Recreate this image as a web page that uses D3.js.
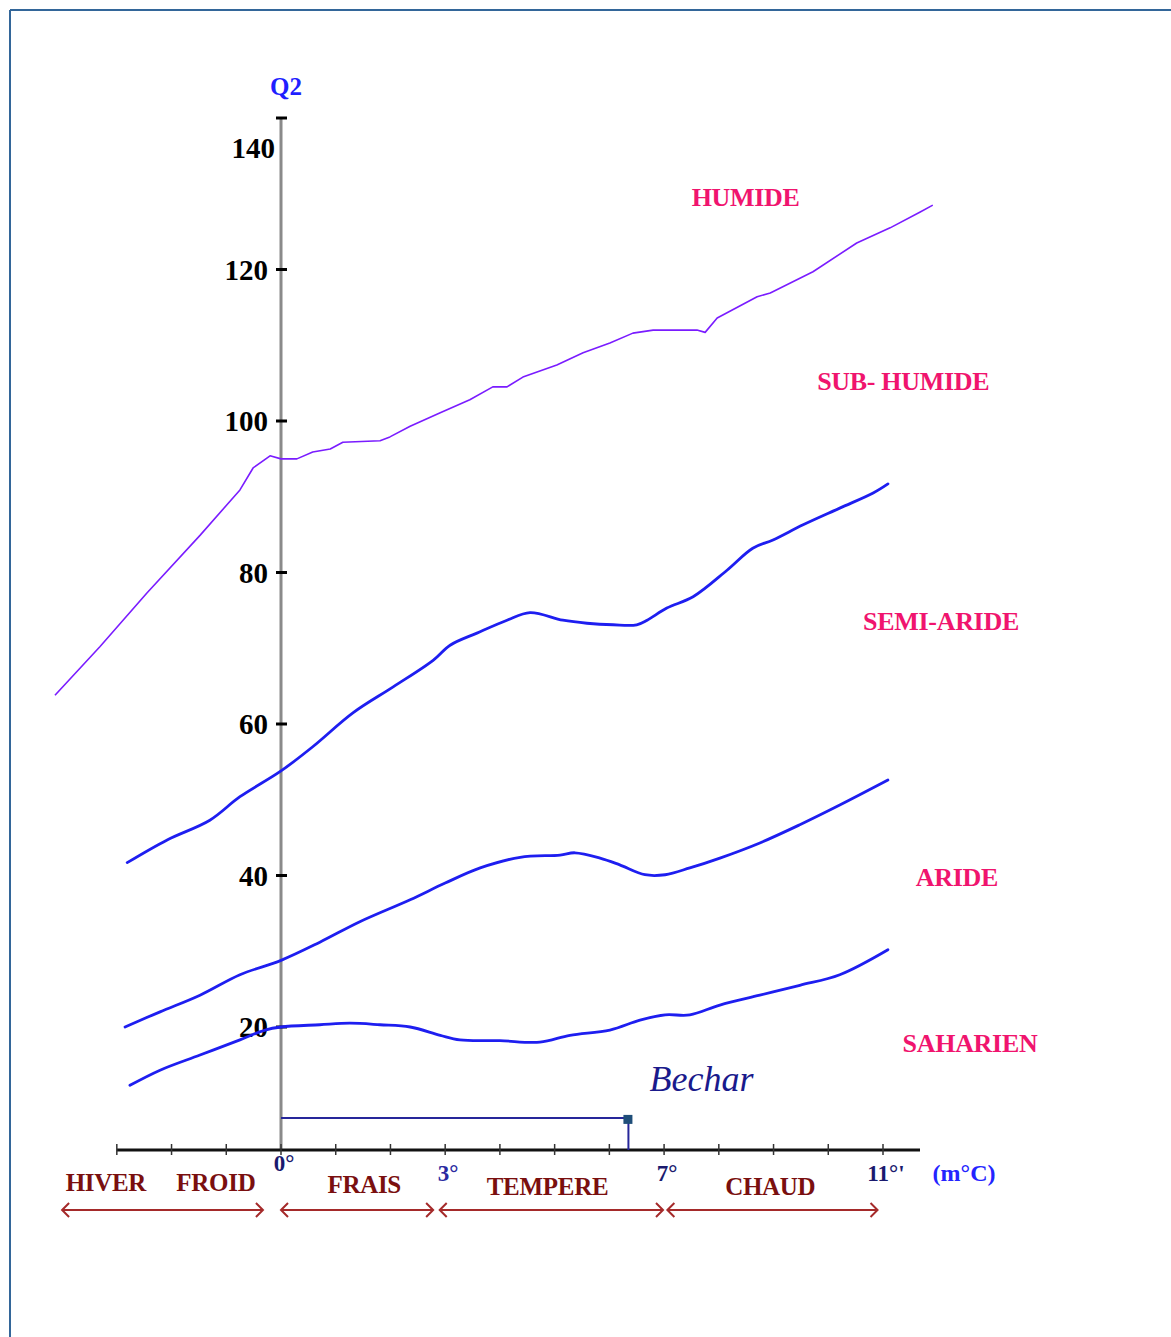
<!DOCTYPE html>
<html>
<head>
<meta charset="utf-8">
<script src="https://cdn.jsdelivr.net/npm/d3@7"></script>
<style>
  html, body { margin: 0; padding: 0; background: #fff; }
  svg { display: block; }
</style>
</head>
<body>
<script>
// ---------- DATA ----------
// Boundary curves: [m (°C), Q2]
const humideLine = [
  [-4.13,63.8],[-3.31,70.2],[-2.45,77.3],[-1.48,84.9],[-0.75,90.9],[-0.51,93.8],[-0.20,95.4],
  [0,95.0],[0.29,95.0],[0.58,95.9],[0.90,96.3],[1.13,97.2],[1.81,97.4],[1.99,97.9],[2.36,99.3],
  [2.91,101.1],[3.45,102.8],[3.87,104.5],[4.13,104.5],[4.42,105.8],[5.04,107.4],[5.52,109.0],
  [6.01,110.3],[6.43,111.6],[6.80,112.0],[7.60,112.0],[7.75,111.7],[7.97,113.6],[8.70,116.4],
  [8.94,116.9],[9.72,119.7],[10.52,123.5],[11.13,125.5],[11.68,127.6],[11.91,128.5]
];
const subHumideLine = [
  [-2.81,41.7],[-2.08,44.7],[-1.30,47.3],[-0.75,50.4],[-0.02,53.7],[0.58,57.0],[1.32,61.5],
  [2.05,64.9],[2.78,68.4],[3.09,70.4],[3.58,72.0],[4.13,73.7],[4.55,74.7],[5.15,73.7],[5.59,73.3],
  [6.07,73.1],[6.50,73.1],[6.69,73.7],[7.05,75.3],[7.53,76.8],[8.15,80.3],[8.62,83.2],[8.99,84.3],
  [9.54,86.3],[10.21,88.5],[10.82,90.5],[11.09,91.7]
];
const semiArideLine = [
  [-2.85,20.0],[-2.21,22.0],[-1.48,24.2],[-0.75,26.9],[0,28.8],[0.71,31.2],[1.44,33.9],
  [2.36,36.8],[3.00,39.0],[3.64,41.0],[4.37,42.4],[5.10,42.7],[5.37,43.0],[5.83,42.3],[6.19,41.4],
  [6.65,40.1],[7.02,40.1],[7.47,41.0],[8.02,42.3],[8.75,44.3],[9.48,46.7],[10.21,49.3],[11.09,52.6]
];
const arideLine = [
  [-2.76,12.3],[-2.21,14.3],[-1.48,16.3],[-0.75,18.3],[-0.29,19.6],[0,20.0],[0.71,20.3],
  [1.26,20.5],[1.81,20.3],[2.36,20.0],[2.91,18.9],[3.27,18.3],[4.00,18.2],[4.73,18.0],[5.28,18.9],
  [6.01,19.6],[6.56,20.9],[7.02,21.6],[7.47,21.6],[8.02,22.9],[8.75,24.2],[9.48,25.5],[10.21,26.9],
  [11.09,30.2]
];

// Bioclimatic stage labels
const stageNames = ["HUMIDE","SUB- HUMIDE","SEMI-ARIDE","ARIDE","SAHARIEN"];
const stageM     = [8.49, 11.37, 12.06, 12.35, 12.59];
const stageQ     = [129.6, 105.3, 73.6, 39.8, 17.9];

// Y ticks
const yTicks = [20,40,60,80,100,120,140];
// X ticks (degrees)
const xTicks = [-3,-2,-1,0,1,2,3,4,5,6,7,8,9,10,11];
const xLabelValues = [0,3,7,11];
const xLabelTexts  = ["0°","3°","7°","11°'"];

// Winter variants (m classes)
const zoneNames  = ["HIVER","FROID","FRAIS","TEMPERE","CHAUD"];
const zoneCenter = [-3.2,-1.19,1.52,4.87,8.94];
const arrowFrom  = [-4.0, 0.0, 2.90, 7.06];
const arrowTo    = [-0.33, 2.78, 6.98, 10.9];

// Station
const stationName = "Bechar";
const stationM = 6.33;
const stationQ = 8.0;

// ---------- LAYOUT ----------
const W = 1171, H = 1337;
const svg = d3.select("body").append("svg").attr("width", W).attr("height", H);

const x = d3.scaleLinear().domain([0, 11]).range([281, 883]);
const y = d3.scaleLinear().domain([20, 140]).range([1027, 118]);
const baseY = 1150;   // x-axis line position

// frame
svg.append("line").attr("x1",10).attr("y1",10).attr("x2",W).attr("y2",10)
  .attr("stroke","#336699").attr("stroke-width",2);
svg.append("line").attr("x1",10).attr("y1",10).attr("x2",10).attr("y2",H)
  .attr("stroke","#336699").attr("stroke-width",2);

const serif = "'Liberation Serif','Times New Roman',serif";

// Y axis
svg.append("line").attr("x1",x(0)).attr("x2",x(0)).attr("y1",y(140)).attr("y2",baseY)
  .attr("stroke","#8a8a8a").attr("stroke-width",3);
svg.selectAll(".ytick").data(yTicks).enter().append("line")
  .attr("x1",x(0)-5).attr("x2",x(0)+6).attr("y1",d=>y(d)).attr("y2",d=>y(d))
  .attr("stroke","#000").attr("stroke-width",3);
svg.selectAll(".ylab").data(yTicks).enter().append("text")
  .attr("x",d => d===140 ? 275 : 268)
  .attr("y",d => d===140 ? y(d)+30 : y(d))
  .attr("dy","0.35em").attr("text-anchor","end")
  .attr("font-family",serif).attr("font-weight","bold").attr("font-size",29)
  .attr("fill","#000").text(d=>d);
svg.append("text").attr("x",286).attr("y",95).attr("text-anchor","middle")
  .attr("font-family",serif).attr("font-weight","bold").attr("font-size",25)
  .attr("fill","#1f1fff").text("Q2");

// X axis
svg.append("line").attr("x1",x(-3)).attr("x2",920).attr("y1",baseY).attr("y2",baseY)
  .attr("stroke","#111").attr("stroke-width",3);
svg.selectAll(".xtick").data(xTicks).enter().append("line")
  .attr("x1",d=>x(d)).attr("x2",d=>x(d)).attr("y1",baseY-6).attr("y2",baseY+5)
  .attr("stroke","#333").attr("stroke-width",1.5);
svg.selectAll(".xlab").data(xLabelValues).enter().append("text")
  .attr("x",d=>x(d)+3).attr("y",(d,i)=> i===0 ? 1171 : 1181)
  .attr("text-anchor","middle")
  .attr("font-family",serif).attr("font-weight","bold").attr("font-size",23)
  .attr("fill",(d,i)=> i===1 ? "#2a2aa0" : "#1a1a6e").text((d,i)=>xLabelTexts[i]);
svg.append("text").attr("x",964).attr("y",1181).attr("text-anchor","middle")
  .attr("font-family",serif).attr("font-weight","bold").attr("font-size",24)
  .attr("fill","#2424ff").text("(m°C)");

// Curves
const line = d3.line().x(d=>x(d[0])).y(d=>y(d[1]));
svg.append("path").datum(humideLine).attr("d",line)
  .attr("fill","none").attr("stroke","#7a1cff").attr("stroke-width",1.6)
  .attr("stroke-linejoin","round");
[subHumideLine, semiArideLine, arideLine].forEach(data => {
  svg.append("path").datum(data).attr("d",line.curve(d3.curveCatmullRom.alpha(0.5)))
    .attr("fill","none").attr("stroke","#1e1ef0").attr("stroke-width",2.8)
    .attr("stroke-linejoin","round").attr("stroke-linecap","round");
});

// Stage labels
svg.selectAll(".stage").data(stageNames).enter().append("text")
  .attr("x",(d,i)=>x(stageM[i])).attr("y",(d,i)=>y(stageQ[i]))
  .attr("dy","0.35em").attr("text-anchor","middle")
  .attr("font-family",serif).attr("font-weight","bold").attr("font-size",26)
  .attr("letter-spacing",-0.3)
  .attr("fill","#f0146e").text(d=>d);

// Station Bechar
svg.append("line").attr("x1",x(0)).attr("x2",x(stationM)).attr("y1",y(stationQ)).attr("y2",y(stationQ))
  .attr("stroke","#26269a").attr("stroke-width",2);
svg.append("line").attr("x1",x(stationM)+1).attr("x2",x(stationM)+1).attr("y1",y(stationQ)).attr("y2",baseY)
  .attr("stroke","#26269a").attr("stroke-width",2);
svg.append("rect").attr("x",x(stationM)-4).attr("y",y(stationQ)-3).attr("width",9).attr("height",9)
  .attr("fill","#1f4e79");
svg.append("text").attr("x",x(stationM)+74).attr("y",y(stationQ)-27).attr("text-anchor","middle")
  .attr("font-family",serif).attr("font-style","italic").attr("font-size",36)
  .attr("fill","#1a1a8c").text(stationName);

// Zone labels
svg.selectAll(".zone").data(zoneNames).enter().append("text")
  .attr("x",(d,i)=>x(zoneCenter[i])).attr("y",(d,i)=> 1191 + (i>=2 ? 2 : 0) + (i>=3 ? 2 : 0))
  .attr("text-anchor","middle")
  .attr("font-family",serif).attr("font-weight","bold").attr("font-size",25)
  .attr("letter-spacing",-0.3)
  .attr("fill","#7a0f0f").text(d=>d);

// Arrows
const arrowY = 1210;
const ac = "#a52a2a";
arrowFrom.forEach((f,i) => {
  const x1 = x(f), x2 = x(arrowTo[i]);
  const g = svg.append("g").attr("stroke",ac).attr("stroke-width",2).attr("fill","none");
  g.append("line").attr("x1",x1).attr("x2",x2).attr("y1",arrowY).attr("y2",arrowY);
  g.append("path").attr("d",`M${x1+7},${arrowY-7} L${x1},${arrowY} L${x1+7},${arrowY+7}`);
  g.append("path").attr("d",`M${x2-7},${arrowY-7} L${x2},${arrowY} L${x2-7},${arrowY+7}`);
});
</script>
</body>
</html>
